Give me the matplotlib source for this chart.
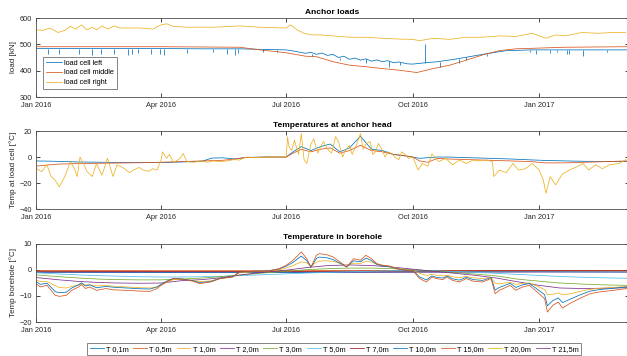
import numpy as np
import pandas as pd
import matplotlib
matplotlib.use("Agg")
import matplotlib.pyplot as plt
import matplotlib.dates as mdates

start = pd.Timestamp("2016-01-01")
end = pd.Timestamp("2017-03-07")

# --- Anchor loads [kN] ---
right_days = [0, 5, 10, 16, 21, 25, 29, 33, 37, 41, 44, 48, 52, 57, 61, 66, 76, 85, 91, 95, 100, 110, 129, 148,
              163, 182, 185, 190, 195, 200, 206, 216, 228, 240, 252, 264, 274, 279, 289, 301, 313, 325, 337,
              349, 361, 366, 371, 378, 385, 397, 409, 419, 429]
right_load = [555, 553, 562, 545, 553, 568, 558, 574, 555, 565, 555, 570, 558, 570, 562, 562, 562, 558, 574, 578,
              568, 565, 565, 570, 565, 562, 574, 555, 542, 536, 536, 532, 527, 527, 523, 520, 519, 514, 523, 519,
              527, 527, 532, 530, 542, 532, 523, 536, 532, 545, 542, 545, 545]

middle_days = [0, 30, 60, 91, 121, 148, 163, 182, 196, 204, 216, 228, 240, 252, 264, 277, 289, 301, 313, 325,
               337, 349, 361, 385, 430]
middle_load = [491, 491, 491, 491, 490, 489, 479, 468, 455, 453, 434, 421, 415, 408, 402, 393, 408, 421, 440,
               460, 476, 483, 485, 489, 491]

left_days = [0, 30, 60, 91, 121, 148, 163, 182, 188, 192, 196, 200, 204, 208, 212, 216, 220, 224, 228, 232, 236,
             240, 244, 248, 252, 256, 260, 264, 270, 274, 283, 292, 304, 313, 325, 337, 342, 361, 400, 430]
left_load = [484, 484, 484, 484, 483, 483, 481, 479, 474, 470, 466, 470, 462, 467, 458, 462, 450, 455, 443, 448,
             440, 445, 436, 441, 434, 438, 430, 433, 426, 425, 430, 434, 443, 451, 462, 472, 476, 479, 479, 479]

spike_days = [9, 17, 31, 41, 47, 57, 67, 70, 74, 84, 90, 93, 110, 129, 139, 145, 147, 165, 175, 201, 221, 240,
              257, 265, 283, 294, 308, 313, 328, 359, 364, 374, 379, 386, 388, 398, 415]
spike_low = [465, 462, 465, 458, 462, 465, 460, 465, 468, 465, 462, 458, 468, 470, 465, 460, 466, 470, 470, 455,
             440, 430, 415, 420, 428, 415, 430, 440, 455, 470, 465, 468, 470, 462, 465, 455, 470]
spike_high = [484, 484, 484, 484, 484, 484, 484, 484, 484, 484, 484, 484, 484, 483, 483, 483, 483, 481, 480, 462,
              450, 445, 436, 433, 500, 432, 443, 451, 462, 479, 479, 479, 479, 479, 479, 479, 479]

# --- Temperatures at anchor head [°C] ---
head_days = [0, 15, 31, 46, 60, 75, 91, 106, 121, 128, 136, 145, 152, 167, 182, 187, 193, 200, 207, 214, 221,
             228, 236, 244, 252, 260, 268, 274, 279, 285, 292, 300, 315, 330, 345, 360, 370, 385, 400, 415, 430]
head_left = [-3.0, -3.3, -3.8, -4.0, -4.2, -4.3, -4.3, -3.8, -3.2, -0.8, -0.6, -1.5, -0.3, 0, 0, 4, 8, 5, 8, 10,
             4, 7, 16, 6, 5, 2, 1, 0, -1, -0.5, 0, 0, -0.5, -1, -1.5, -2.2, -2.6, -3, -3.3, -3.4, -3.5]
head_middle = [-7, -5.5, -5, -4.8, -4.6, -4.4, -4, -3.5, -3, -2.8, -2.5, -1.5, -0.5, 0, 0, 3, 6, 4, 6, 7, 3, 5,
               9, 5, 4, 2, 1, 0, -3, -4, -1, -1.5, -2, -2.5, -3, -3.5, -4.5, -4.5, -4, -3.5, -3]

air_days = [0, 4, 8, 11, 14, 17, 21, 25, 28, 30, 32, 35, 37, 41, 44, 48, 52, 56, 59, 64, 68, 71, 75, 78, 82, 85,
            88, 91, 92, 95, 97, 100, 102, 105, 107, 110, 115, 120, 125, 129, 134, 139, 144, 148, 153, 160, 168,
            175, 182, 183, 184, 186, 188, 191, 193, 195, 197, 200, 202, 205, 209, 211, 213, 215, 218, 220, 223,
            225, 228, 230, 233, 236, 238, 240, 243, 245, 247, 249, 251, 254, 256, 259, 261, 264, 266, 268, 271,
            274, 278, 281, 285, 288, 293, 298, 303, 308, 313, 318, 323, 328, 332, 333, 337, 342, 347, 351, 356,
            361, 366, 369, 371, 374, 378, 383, 388, 393, 398, 402, 407, 412, 417, 424, 429]
head_right = [-8.7, -11.3, -6, -15, -18, -23, -15, -3.6, -9, -15, 0, -6, -11, -15, -5, -14, -1, -15, -6, -8.7,
              -12, -10, -8, -10, -11, -9, -10, -2.3, 4, -1, 2, -4, -3, -1, 2.8, -3.6, -4, -3, -4, -3, -3.5, -3,
              -2, -2.3, 0, -0.5, 0, 0, 0, 15.6, 8, 5, 13, 2, 18, -2, -5, 10, 14, 3, 12, 8, 5, 3, 15.6, 12, 0, 5,
              9, 2, 9, 18, 6, 10, 12, 2, 4, 10.5, 7, 0, 4, 2.5, 0, -2, 4, 2.5, -1, 0, -10, -5, -7, 2.5, -3.5, -1,
              -6, -2.3, -5, -2.3, -3, -2.3, -3.6, -15, -10, -12, -5, -10, -9, -5, -10, -17.7, -28, -15, -21.5,
              -13, -10, -7.7, -5, -10, -6, -9, -6, -5, -2]

# --- Temperature in borehole [°C] ---
shallow_days = [0, 3, 8, 10, 14, 17, 22, 26, 31, 33, 36, 39, 44, 51, 56, 66, 76, 83, 88, 91, 95, 100, 107, 114,
                119, 127, 134, 143, 148, 158, 168, 177, 182, 187, 193, 197, 200, 204, 206, 211, 216, 221, 226,
                231, 236, 240, 244, 248, 252, 257, 262, 269, 274, 279, 284, 288, 291, 296, 299, 303, 308, 313,
                318, 325, 331, 334, 337, 345, 349, 354, 359, 366, 370, 372, 376, 380, 383, 388, 395, 403, 410,
                420, 430]
t01 = [-4.5, -5.6, -5.2, -6.2, -8.4, -8.8, -8.6, -7.0, -5.8, -5.0, -6.2, -5.8, -6.9, -6.4, -6.7, -7.0, -7.3, -7.4,
       -6.6, -5.6, -4.4, -3.3, -3.6, -4.2, -5.0, -4.5, -3.3, -2.7, -0.9, -0.6, -0.5, 0.3, 1.3, 2.8, 5.2, 3.4, 0.9,
       4.3, 4.8, 4.6, 3.9, 2.5, 1.0, 3.4, 3.0, 4.4, 3.5, 2.0, 1.5, 1.2, 0.4, -0.2, -0.2, -2.8, -3.9, -2.4, -2.9,
       -3.2, -2.4, -3.5, -4.0, -2.9, -3.8, -4.1, -3.0, -7.8, -6.8, -5.2, -6.8, -5.8, -5.3, -8.0, -9.6, -13.8,
       -11.8, -10.8, -12.6, -11.4, -9.8, -8.2, -7.6, -7.1, -6.6]
t05 = [-5.3, -6.6, -6.0, -7.2, -9.8, -10.2, -9.8, -7.9, -6.6, -5.7, -7.2, -6.6, -7.9, -7.2, -7.7, -7.9, -8.2,
       -8.3, -7.2, -6.0, -4.7, -3.4, -3.7, -4.4, -5.3, -4.7, -3.4, -2.8, -0.9, -0.6, -0.6, 0.4, 1.7, 3.6, 6.8, 4.2,
       1.0, 5.5, 6.1, 5.8, 4.9, 3.0, 1.0, 4.2, 3.6, 5.5, 4.2, 2.3, 1.7, 1.4, 0.4, -0.2, -0.2, -3.4, -4.7, -2.8,
       -3.4, -3.8, -2.8, -4.1, -4.7, -3.4, -4.4, -4.7, -3.4, -9.2, -7.9, -6.0, -7.9, -6.6, -6.0, -9.2, -11.1,
       -16.2, -13.6, -12.4, -14.7, -13.0, -11.1, -9.2, -8.5, -7.9, -7.2]
t10 = [-4.0, -4.5, -4.6, -5.0, -6.2, -6.8, -7.0, -6.4, -5.8, -5.4, -5.8, -5.8, -6.2, -6.1, -6.3, -6.6, -6.9, -7.0,
       -6.6, -5.8, -4.8, -3.8, -3.6, -4.0, -4.6, -4.3, -3.4, -2.8, -1.2, -0.8, -0.6, 0.0, 0.6, 1.6, 3.0, 2.6, 1.4,
       2.8, 3.3, 3.4, 3.2, 2.4, 1.4, 2.5, 2.4, 3.2, 2.9, 2.0, 1.6, 1.3, 0.6, 0.0, -0.2, -1.4, -2.2, -1.8, -2.1,
       -2.4, -2.1, -2.7, -3.1, -2.6, -3.1, -3.4, -2.9, -5.2, -5.4, -4.8, -5.6, -5.3, -5.1, -6.6, -7.6, -9.6,
       -9.4, -8.9, -9.6, -9.3, -8.4, -7.5, -7.1, -6.8, -6.4]

mid_days = [0, 15, 31, 46, 60, 75, 91, 106, 121, 136, 152, 167, 182, 197, 213, 228, 244, 259, 274, 289, 305,
            320, 335, 350, 366, 381, 397, 412, 430]
t20 = [-3.0, -3.8, -4.5, -4.9, -5.1, -5.2, -5.1, -4.2, -3.8, -3.0, -1.8, -0.9, -0.2, 0.8, 1.6, 1.8, 1.6, 1.0,
       0.2, -0.6, -1.4, -2.2, -3.2, -4.6, -6.0, -7.0, -7.2, -7.1, -6.9]
t30 = [-2.0, -2.6, -3.2, -3.6, -3.8, -3.9, -3.9, -3.6, -3.2, -2.6, -1.9, -1.2, -0.6, 0.0, 0.4, 0.6, 0.6, 0.4,
       0.0, -0.5, -1.1, -1.7, -2.4, -3.6, -4.4, -5.1, -5.5, -5.8, -6.0]
t50 = [-1.2, -1.6, -2.0, -2.3, -2.5, -2.7, -2.8, -2.8, -2.7, -2.5, -2.2, -1.9, -1.6, -1.3, -1.0, -0.8, -0.6,
       -0.4, -0.3, -0.4, -0.7, -1.0, -1.4, -1.8, -2.2, -2.6, -2.9, -3.1, -3.3]

deep_days = [0, 91, 182, 274, 366, 430]
t70 = [-0.6, -0.7, -0.7, -0.5, -0.4, -0.4]
t100 = [-0.9, -1.0, -1.0, -0.8, -0.8, -0.9]
t150 = [-0.3, -0.4, -0.4, -0.3, -0.3, -0.3]
t200 = [-0.6, -0.6, -0.6, -0.5, -0.5, -0.5]
t215 = [-1.0, -1.1, -1.1, -1.0, -0.9, -0.9]

def to_dates(days):
    return start + pd.to_timedelta(days, unit="D")

colors = ["#0072BD", "#D95319", "#EDB120", "#7E2F8E", "#77AC30", "#4DBEEE", "#A2142F"]

plt.rcParams["font.family"] = ["Liberation Sans", "DejaVu Sans"]
plt.rcParams["axes.linewidth"] = 0.6
plt.rcParams["axes.edgecolor"] = "#4d4d4d"

fig = plt.figure(figsize=(6.27, 3.56), dpi=100)
ax1 = fig.add_axes([0.0574, 0.7275, 0.945, 0.2219])
ax2 = fig.add_axes([0.0574, 0.4129, 0.945, 0.219])
ax3 = fig.add_axes([0.0574, 0.0955, 0.945, 0.2205])

lw = 0.55
ax1.plot(to_dates(left_days), left_load, color=colors[0], lw=lw, label="load cell left")
ax1.plot(to_dates(middle_days), middle_load, color=colors[1], lw=lw, label="load cell middle")
ax1.plot(to_dates(right_days), right_load, color=colors[2], lw=lw, label="load cell right")
ax1.vlines(to_dates(spike_days), spike_low, spike_high, color=colors[0], lw=lw)
ax1.set_ylim(300, 600)
ax1.set_yticks([300, 400, 500, 600])
ax1.set_ylabel("load [kN]")
ax1.set_title("Anchor loads")
leg1 = ax1.legend(loc="lower left", bbox_to_anchor=(0.012, 0.1), borderaxespad=0, fontsize=5.3,
                  fancybox=False, edgecolor="#4d4d4d", handlelength=2.1, handletextpad=0.35,
                  labelspacing=0.35, borderpad=0.4)
leg1.get_frame().set_linewidth(0.6)

ax2.plot(to_dates(head_days), head_left, color=colors[0], lw=lw)
ax2.plot(to_dates(head_days), head_middle, color=colors[1], lw=lw)
ax2.plot(to_dates(air_days), head_right, color=colors[2], lw=lw)
ax2.set_ylim(-40, 20)
ax2.set_yticks([-40, -20, 0, 20])
ax2.set_ylabel("Temp at load cell [°C]")
ax2.set_title("Temperatures at anchor head")

bh = [(shallow_days, t01, "T 0,1m"), (shallow_days, t05, "T 0,5m"), (shallow_days, t10, "T 1,0m"),
      (mid_days, t20, "T 2,0m"), (mid_days, t30, "T 3,0m"), (mid_days, t50, "T 5,0m"),
      (deep_days, t70, "T 7,0m"), (deep_days, t100, "T 10,0m"), (deep_days, t150, "T 15,0m"),
      (deep_days, t200, "T 20,0m"), (deep_days, t215, "T 21,5m")]
order = [10, 9, 8, 7, 6, 5, 4, 3, 2, 0, 1]
lines = [None] * len(bh)
for i in order:
    days, vals, name = bh[i]
    lines[i], = ax3.plot(to_dates(days), vals, color=colors[i % 7], lw=lw, label=name)
ax3.set_ylim(-20, 10)
ax3.set_yticks([-20, -10, 0, 10])
ax3.set_ylabel("Temp borehole [°C]")
ax3.set_title("Temperature in borehole")

leg3 = fig.legend(handles=lines, loc="center", bbox_to_anchor=(0.533, 0.0197), ncol=11, fontsize=5.3,
                  fancybox=False, edgecolor="#4d4d4d", handlelength=1.9, handletextpad=0.3,
                  columnspacing=0.6, borderpad=0.35, borderaxespad=0)
leg3.get_frame().set_linewidth(0.6)

tick_dates = pd.to_datetime(["2016-01-01", "2016-04-01", "2016-07-01", "2016-10-01", "2017-01-01"])
for ax in (ax1, ax2, ax3):
    ax.set_xlim(start, end)
    ax.set_xticks(tick_dates)
    ax.xaxis.set_major_formatter(mdates.DateFormatter("%b %Y"))
    ax.tick_params(direction="in", length=3, width=0.6, labelsize=5.3, colors="#262626",
                   top=True, right=True)
    ax.tick_params(axis="x", pad=3.5)
    ax.tick_params(axis="y", pad=3)
    ax.yaxis.label.set_size(5.8)
    ax.yaxis.label.set_color("#262626")
    ax.yaxis.labelpad = 2
    ax.set_title(ax.get_title(), fontsize=6, fontweight="bold", pad=3)

plt.savefig("out.png", dpi=100)
